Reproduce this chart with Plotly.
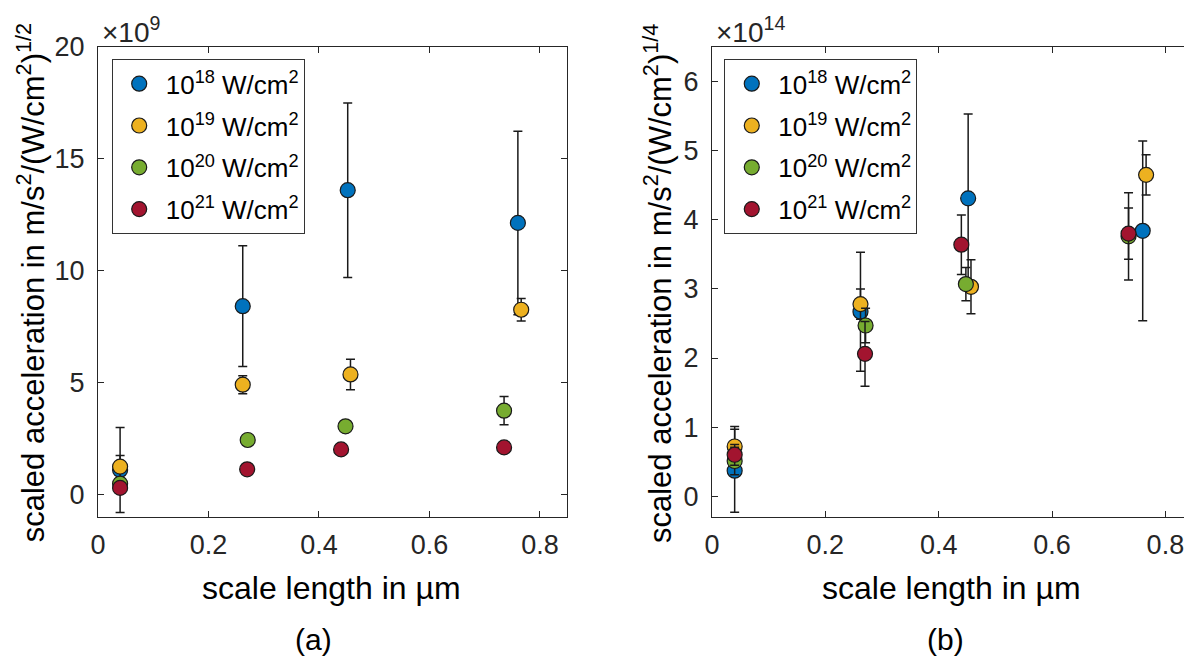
import plotly.graph_objects as go

# x positions (scale length in µm) per intensity series
x_1e18 = [0.04, 0.262, 0.452, 0.760]
x_1e19 = [0.04, 0.262, 0.457, 0.766]
x_1e20 = [0.04, 0.271, 0.448, 0.735]
x_1e21 = [0.04, 0.270, 0.440, 0.735]

# panel (a): scaled acceleration in m/s^2/(W/cm^2)^1/2, units of 1e9
a_1e18 = [1.10, 8.42, 13.60, 12.14]
a_1e18_err = [1.90, 2.70, 3.90, 4.10]
a_1e19 = [1.25, 4.91, 5.37, 8.26]
a_1e19_err = [0.50, 0.40, 0.68, 0.50]
a_1e20 = [0.49, 2.44, 3.05, 3.75]
a_1e20_err = [0.15, 0.10, 0.10, 0.63]
a_1e21 = [0.30, 1.13, 2.02, 2.11]
a_1e21_err = [0.10, 0.08, 0.08, 0.10]

# panel (b): scaled acceleration in m/s^2/(W/cm^2)^1/4, units of 1e14
b_1e18 = [0.37, 2.67, 4.31, 3.84]
b_1e18_err = [0.60, 0.86, 1.22, 1.30]
b_1e19 = [0.72, 2.78, 3.03, 4.65]
b_1e19_err = [0.29, 0.22, 0.39, 0.29]
b_1e20 = [0.51, 2.47, 3.07, 3.76]
b_1e20_err = [0.20, 0.25, 0.24, 0.63]
b_1e21 = [0.60, 2.06, 3.64, 3.80]
b_1e21_err = [0.15, 0.47, 0.43, 0.37]

names = ["10<sup>18</sup> W/cm<sup>2</sup>", "10<sup>19</sup> W/cm<sup>2</sup>",
         "10<sup>20</sup> W/cm<sup>2</sup>", "10<sup>21</sup> W/cm<sup>2</sup>"]
colors = ["#0072BD", "#EDB120", "#77AC30", "#A2142F"]
xs = [x_1e18, x_1e19, x_1e20, x_1e21]
a_vals = [(a_1e18, a_1e18_err), (a_1e19, a_1e19_err), (a_1e20, a_1e20_err), (a_1e21, a_1e21_err)]
b_vals = [(b_1e18, b_1e18_err), (b_1e19, b_1e19_err), (b_1e20, b_1e20_err), (b_1e21, b_1e21_err)]

FONT = "Liberation Sans, Arial, sans-serif"
AX = "#262626"

fig = go.Figure()
for i in range(4):
    for tag, vals, xa, ya, lg in (("a", a_vals, "x", "y", "legend"), ("b", b_vals, "x2", "y2", "legend2")):
        y, e = vals[i]
        fig.add_trace(go.Scatter(
            x=xs[i], y=y, mode="markers", name=names[i], xaxis=xa, yaxis=ya, legend=lg,
            legendgroup=f"{tag}{i}",
            marker=dict(size=15, color=colors[i], line=dict(color="#1a1a1a", width=1.2)),
            error_y=dict(type="data", array=e, visible=True, color="#1a1a1a", thickness=1.5, width=4.5),
        ))

axis_common = dict(showline=True, linecolor=AX, linewidth=1, mirror="ticks", ticks="inside",
                   ticklen=6, tickcolor=AX, showgrid=False, zeroline=False, automargin=False,
                   tickfont=dict(family=FONT, size=27, color=AX))

legend_common = dict(xanchor="left", yanchor="top", bgcolor="white",
                     bordercolor="#333333", borderwidth=1, itemwidth=43,
                     font=dict(family=FONT, size=26, color="black"), tracegroupgap=5)

fig.update_layout(
    width=1192, height=663, margin=dict(l=0, r=0, t=0, b=0),
    paper_bgcolor="white", plot_bgcolor="white",
    font=dict(family=FONT, color="black"),
    xaxis=dict(domain=[0.0755, 0.4690], range=[0, 0.849], tickvals=[0, 0.2, 0.4, 0.6, 0.8],
               ticktext=["0", "0.2", "0.4", "0.6", "0.8"], ticklabelstandoff=4, **axis_common),
    yaxis=dict(domain=[0.2323, 0.9412], range=[-1, 20], tickvals=[0, 5, 10, 15, 20],
               ticklabelstandoff=7, **axis_common),
    xaxis2=dict(domain=[0.5906, 0.9933], range=[0, 0.847], tickvals=[0, 0.2, 0.4, 0.6, 0.8],
                ticktext=["0", "0.2", "0.4", "0.6", "0.8"], anchor="y2", ticklabelstandoff=4,
                **axis_common),
    yaxis2=dict(domain=[0.2323, 0.9412], range=[-0.3, 6.5], tickvals=[0, 1, 2, 3, 4, 5, 6],
                anchor="x2", ticklabelstandoff=7, **axis_common),
    legend=dict(x=0.0870, y=0.9226, **legend_common),
    legend2=dict(x=0.6009, y=0.9226, **legend_common),
    showlegend=True,
)

ann = [
    dict(text="scaled acceleration in m/s<sup>2</sup>/(W/cm<sup>2</sup>)<sup>1/2</sup>", x=0.0195, y=0.5852,
         textangle=-90, font=dict(size=31)),
    dict(text="scaled acceleration in m/s<sup>2</sup>/(W/cm<sup>2</sup>)<sup>1/4</sup>", x=0.5453, y=0.5852,
         textangle=-90, font=dict(size=31)),
    dict(text="×10<sup>9</sup>", x=0.0772, y=0.967, xanchor="left", font=dict(size=28, color=AX)),
    dict(text="×10<sup>14</sup>", x=0.5923, y=0.967, xanchor="left", font=dict(size=28, color=AX)),
    dict(text="scale length in µm", x=0.2718, y=0.1252, font=dict(size=32)),
    dict(text="scale length in µm", x=0.7919, y=0.1252, font=dict(size=32)),
    dict(text="(a)", x=0.2559, y=0.0468, font=dict(size=30)),
    dict(text="(b)", x=0.7869, y=0.0468, font=dict(size=30)),
]
for a in ann:
    a.update(xref="paper", yref="paper", showarrow=False, yanchor="middle")
    a.setdefault("xanchor", "center")
    a["font"] = dict(family=FONT, color=a["font"].get("color", "black"), size=a["font"]["size"])
    fig.add_annotation(**a)

fig.write_html("out.html")
